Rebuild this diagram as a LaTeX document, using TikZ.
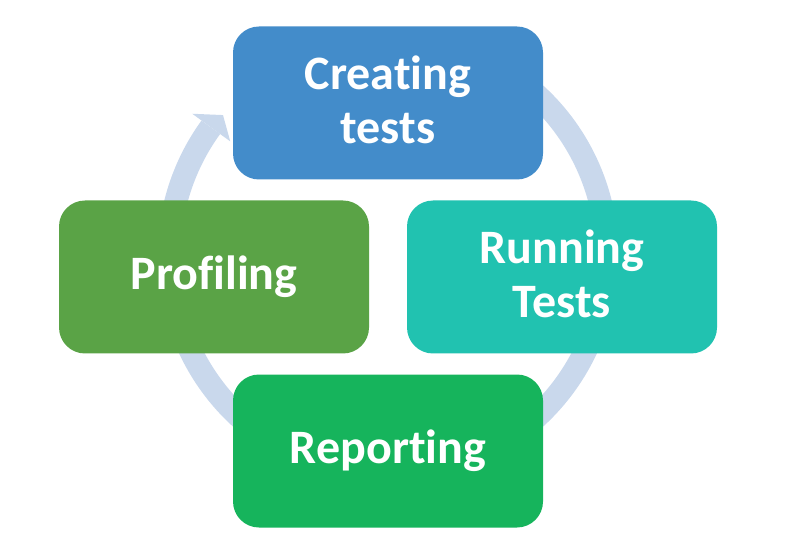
\documentclass[tikz,border=0pt]{standalone}
\usepackage{fontspec}
\setmainfont{Carlito}[Ligatures={NoCommon,NoContextual},RawFeature={-liga;-clig;-dlig}]
\usetikzlibrary{calc}
\definecolor{ringcol}{HTML}{C9D8EC}
\definecolor{cblue}{HTML}{438CCA}
\definecolor{cteal}{HTML}{21C2B0}
\definecolor{cgreenA}{HTML}{5AA346}
\definecolor{cgreenB}{HTML}{16B45C}
\newcommand{\lowstrut}{\rule[-6pt]{0pt}{6pt}}
\tikzset{
  stagebox/.style={draw=none, rounded corners=26pt, minimum width=310pt, minimum height=153pt,
    text=white, font=\fontsize{48}{54}\selectfont\bfseries, align=center, inner sep=0pt},
  ring/.style={draw=ringcol, line width=23pt},
}
\begin{document}
\begin{tikzpicture}[x=1pt,y=1pt]
\useasboundingbox (0,0) rectangle (786,557);
\coordinate (c) at (388,301);
% circular arrow
\draw[ring] (c) ++(60:219) arc[start angle=60, end angle=-216, radius=219pt];
\fill[ringcol] ($(c)+(144:242)$) -- ($(c)+(139.5:217)$) -- ($(c)+(144:195)$) -- cycle;
% stages
\node[stagebox, fill=cblue]   (create)  at (388,454) {Creating\\tests\lowstrut};
\node[stagebox, fill=cteal]   (run)     at (562,280) {Running\\Tests\lowstrut};
\node[stagebox, fill=cgreenA] (profile) at (214,280) {Profiling};
\node[stagebox, fill=cgreenB] (report)  at (388,106) {Reporting};
\end{tikzpicture}
\end{document}
